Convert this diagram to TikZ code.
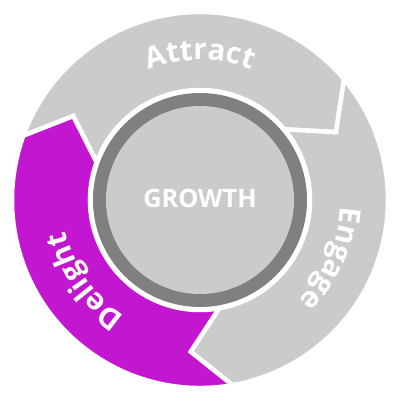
\documentclass[tikz,border=0pt]{standalone}
\usepackage{fontspec}
\setmainfont{Open Sans}
\usetikzlibrary{decorations.text}
\definecolor{ringgray}{HTML}{CBCBCB}
\definecolor{ringdark}{HTML}{808080}
\definecolor{delightpurple}{HTML}{C316D0}
\newcommand{\labelfont}{\fontsize{21}{25}\selectfont\bfseries}

\begin{document}
\begin{tikzpicture}[
    segment/.style={draw=white, line width=3.2pt, line join=miter, fill=ringgray},
    arclabel/.style={decorate, decoration={text along path, text={#1}, text align=center, text color=white}}
]
    \useasboundingbox (-5,-5) rectangle (5,5);

    % Attract segment
    \draw[segment] (160:4.7) arc[start angle=160, end angle=40, radius=4.7]
        -- (26.5:3.8) -- (40:2.75) arc[start angle=40, end angle=160, radius=2.75]
        -- (146.5:3.8) -- cycle;

    % Engage segment
    \draw[segment] (40:4.7) arc[start angle=40, end angle=-80, radius=4.7]
        -- (-93.5:3.8) -- (-80:2.75) arc[start angle=-80, end angle=40, radius=2.75]
        -- (26.5:3.8) -- cycle;

    % Delight segment
    \draw[segment, fill=delightpurple] (280:4.7) arc[start angle=280, end angle=160, radius=4.7]
        -- (146.5:3.8) -- (160:2.75) arc[start angle=160, end angle=280, radius=2.75]
        -- (266.5:3.8) -- cycle;

    % Hub
    \fill[ringdark] (0,0) circle (2.675);
    \fill[ringgray] (0,0) circle (2.35);
    \node[font=\fontsize{18}{20}\selectfont\bfseries, text=white] (growth) at (0,0.05) {GROWTH};

    % Curved labels
    \path[arclabel={|\labelfont|Attract}] (130:3.5) arc[start angle=130, end angle=50, radius=3.5];
    \path[arclabel={|\labelfont|Engage}] (1:3.52) arc[start angle=1, end angle=-49, radius=3.52];
    \path[arclabel={|\labelfont|Delight}] (240:3.45) arc[start angle=240, end angle=190, radius=3.45];
\end{tikzpicture}
\end{document}
